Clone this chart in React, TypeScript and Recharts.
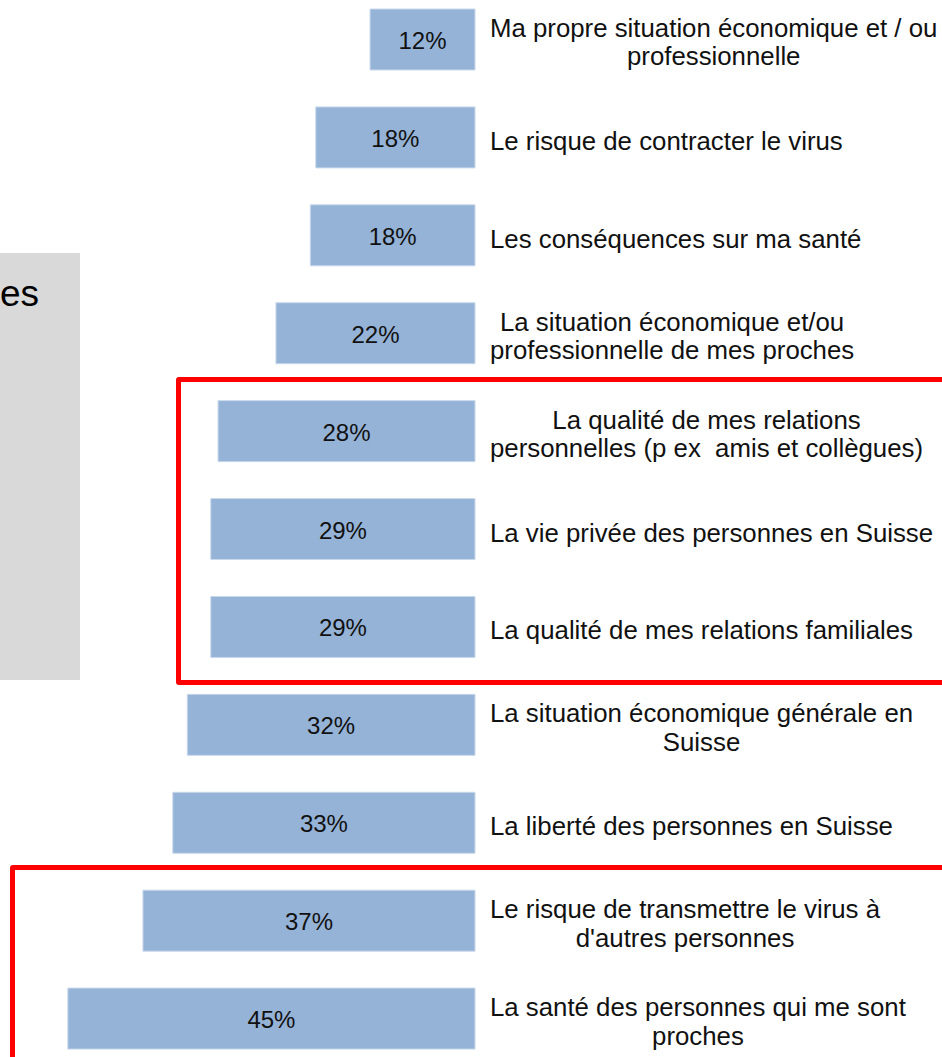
import React from "react";
import { BarChart, Bar, XAxis, YAxis, LabelList } from "recharts";

// ---------------------------------------------------------------------------
// Data (top to bottom)
// ---------------------------------------------------------------------------

const categories = [
  "Ma propre situation économique et / ou\nprofessionnelle",
  "Le risque de contracter le virus",
  "Les conséquences sur ma santé",
  "La situation économique et/ou\nprofessionnelle de mes proches",
  "La qualité de mes relations\npersonnelles (p ex  amis et collègues)",
  "La vie privée des personnes en Suisse",
  "La qualité de mes relations familiales",
  "La situation économique générale en\nSuisse",
  "La liberté des personnes en Suisse",
  "Le risque de transmettre le virus à\nd'autres personnes",
  "La santé des personnes qui me sont\nproches",
];

const shares = [11.6, 17.6, 18.2, 22.0, 28.4, 29.2, 29.2, 31.8, 33.4, 36.7, 45.0];

const sideNote = "es";

const FONT = '"Liberation Sans", Arial, sans-serif';
const LABEL_SIZE = 25.8;
const LINE_GAP = 28.5;

const chartData = categories.map((label, i) => ({ label, value: shares[i] }));

// measure text so multi-line labels can be centred on their widest line
let ctx: CanvasRenderingContext2D | null = null;
function textWidth(s: string) {
  if (!ctx) ctx = document.createElement("canvas").getContext("2d");
  if (!ctx) return s.length * LABEL_SIZE * 0.5;
  ctx.font = `${LABEL_SIZE}px "Liberation Sans"`;
  return ctx.measureText(s).width;
}

function CategoryTick(props: any) {
  const { x, y, payload } = props;
  const lines: string[] = String(payload.value).split("\n");
  const widest = Math.max(...lines.map(textWidth));
  const cx = x + widest / 2;
  const first = lines.length === 1 ? y + 12 : y - 3;
  return (
    <text
      textAnchor="middle"
      fontFamily={FONT}
      fontSize={LABEL_SIZE}
      fill="#111"
      style={{ whiteSpace: "pre" }}
    >
      {lines.map((line, i) => (
        <tspan key={i} x={cx} y={first + i * LINE_GAP}>
          {line}
        </tspan>
      ))}
    </text>
  );
}

export default function App() {
  return (
    <div
      style={{
        position: "absolute",
        left: 0,
        top: 0,
        width: 942,
        height: 1057,
        overflow: "hidden",
        background: "#fff",
        fontFamily: FONT,
      }}
    >
      {/* grey side panel, cut off on the left */}
      <div
        style={{
          position: "absolute",
          left: 0,
          top: 253,
          width: 80,
          height: 427,
          background: "#D9D9D9",
          overflow: "hidden",
        }}
      >
        <span
          style={{
            position: "absolute",
            right: 41,
            top: 20,
            fontSize: 37,
            color: "#000",
            whiteSpace: "nowrap",
          }}
        >
          {sideNote}
        </span>
      </div>

      <div style={{ position: "absolute", left: 0, top: -9 }}>
        <BarChart
          width={942}
          height={1077}
          data={chartData}
          layout="vertical"
          margin={{ top: 0, right: 0, left: 0, bottom: 0 }}
        >
          <XAxis type="number" domain={[0, 52.5]} reversed hide />
          <YAxis
            type="category"
            dataKey="label"
            orientation="right"
            width={467}
            axisLine={false}
            tickLine={false}
            tickSize={0}
            tickMargin={15}
            interval={0}
            tick={<CategoryTick />}
          />
          <Bar
            dataKey="value"
            fill="#95B3D7"
            stroke="#C9D8EB"
            strokeWidth={1}
            barSize={61}
            isAnimationActive={false}
          >
            <LabelList
              dataKey="value"
              position="center"
              formatter={(v: any) => `${Math.round(Number(v))}%`}
              fill="#111"
              fontSize={24}
              fontFamily={FONT}
              dy={1}
            />
          </Bar>
        </BarChart>
      </div>

      {/* red highlight frames */}
      <div
        style={{
          position: "absolute",
          left: 176,
          top: 377,
          width: 800,
          height: 298,
          border: "5px solid #FF0000",
          borderRadius: 3,
          pointerEvents: "none",
        }}
      />
      <div
        style={{
          position: "absolute",
          left: 10,
          top: 865,
          width: 1000,
          height: 300,
          border: "5px solid #FF0000",
          borderRadius: 3,
          pointerEvents: "none",
        }}
      />
    </div>
  );
}
